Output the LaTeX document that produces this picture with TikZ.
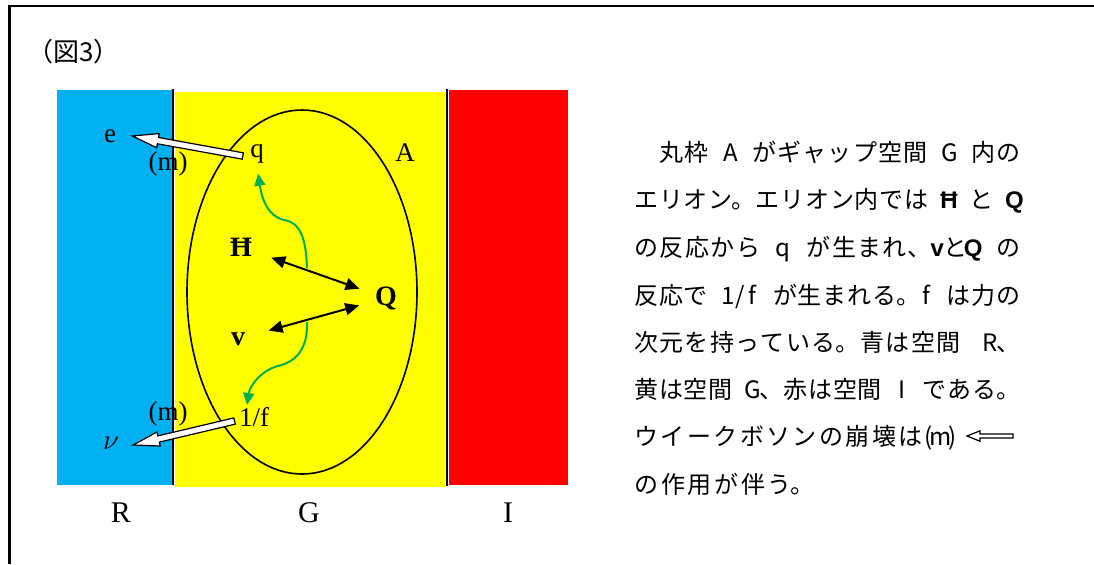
\documentclass[tikz,border=0pt]{standalone}
\usepackage{fontspec}
\setmainfont{Liberation Serif}
\newfontfamily\jpfont{Noto Sans CJK JP}
\newfontfamily\hwfont{Liberation Sans}
\usetikzlibrary{arrows.meta,calc,positioning}
\XeTeXlinebreaklocale "ja"
\XeTeXlinebreakskip=0pt plus 1pt

\definecolor{spaceR}{RGB}{0,176,240}
\definecolor{spaceG}{RGB}{255,255,0}
\definecolor{spaceI}{RGB}{255,0,0}
\definecolor{flowgreen}{RGB}{0,176,80}

% half-width letters and spaces in the explanation
\newcommand{\hc}[1]{\makebox[0.5em]{#1}}
\newcommand{\hb}[1]{\makebox[0.5em]{\hwfont\bfseries #1}}
\newcommand{\hs}{\hspace{0.5em plus 0.3em}}
\newcommand{\fullline}[1]{\noindent\parfillskip=0pt\relax #1\par}

% white block arrow: tail, tip, shaft half width, head half width, head length
\newcommand{\hollowarrow}[5]{%
  \draw[hollow] let \p1=(#1), \p2=(#2),
      \n1={atan2(\y2-\y1,\x2-\x1)}, \n2={veclen(\x2-\x1,\y2-\y1)} in
    ($(\p1)+(\n1+90:#3)$) -- ++(\n1:{\n2-#5}) -- ++(\n1+90:{#4-#3}) -- (\p2)
    -- ($(\p2)+(\n1+180:#5)+(\n1-90:#4)$) -- ++(\n1+90:{#4-#3})
    -- ++(\n1+180:{\n2-#5}) -- cycle;}

\begin{document}
\begin{tikzpicture}[
        x=0.5pt,
        y=-0.5pt,
        lab/.style={font=\fontsize{13.5}{15}\selectfont, inner sep=1pt},
        big/.style={font=\fontsize{14}{16}\selectfont\bfseries, inner sep=1pt},
        axis/.style={font=\fontsize{15}{17}\selectfont, inner sep=1pt},
        border/.style={line width=1pt},
        react/.style={line width=1pt, {Triangle[length=7pt,width=6pt]}-{Triangle[length=7pt,width=6pt]}},
        flow/.style={line width=1pt, draw=flowgreen, -{Triangle[length=6pt,width=5.5pt]}},
        hollow/.style={draw=black, fill=white, line width=0.6pt, line join=miter},
        jptext/.style={font=\jpfont\fontsize{12}{14}\selectfont, anchor=west, inner sep=0pt,
            text height=10.56pt, text depth=1.44pt, text width=193pt, align=justify},
        jpline/.style={font=\jpfont\fontsize{12}{14}\selectfont, anchor=west, inner sep=0pt,
            text height=10.56pt, text depth=1.44pt}
    ]
        \useasboundingbox (0,0) rectangle (1094,564);
        \draw[line width=1.2pt] (9.5,564) -- (9.5,6) -- (1094,6);
        \node[jpline, font=\jpfont\fontsize{13}{15}\selectfont] (title) at (27,52) {（図3）};

        % the three spaces
        \fill[spaceR] (57,90) rectangle (173,485);
        \fill[spaceG] (175,92) rectangle (445,487);
        \fill[spaceI] (449,90) rectangle (568,485);
        \draw[border] (173,89) -- (173,485);
        \draw[border] (447,89) -- (447,486);
        \draw[line width=0.8pt] (302,292) ellipse (115 and 182);

        \node[axis] (R) at (121,513) {R};
        \node[axis] (G) at (309,513) {G};
        \node[axis] (I) at (508,513) {I};

        % labels
        \node[lab] (e) at (110,136) {e};
        \node[lab] (m1) at (168,164) {(m)};
        \node[lab] (q) at (257,154) {q};
        \node[lab] (A) at (405,153) {A};
        \node[big] (hbar) at (241,247) {Ħ};
        \node[big] (Q) at (386,298) {Q};
        \node[big] (v) at (238,339) {v};
        \node[lab] (m2) at (168,414) {(m)};
        \node[lab] (onef) at (254,417) {1/f};
        \node[lab] (nu) at (111,443) {$\nu$};

        % reactions
        \draw[react, shorten <=9pt, shorten >=7pt] (hbar) -- (Q);
        \draw[react, shorten <=11pt, shorten >=7pt] (v) -- (Q);

        \coordinate (hq) at (307,268);
        \coordinate (vq) at (307,322);
        \coordinate (ftip) at ([xshift=-3.5pt]onef.north);
        \draw[flow, shorten >=4pt] (hq) .. controls (306,238) and (300,222) .. (284,220)
            .. controls (268,216) and (262,200) .. (q.south);
        \draw[flow] (vq) .. controls (308,350) and (295,362) .. (278,366)
            .. controls (262,370) and (250,385) .. (ftip);

        % decays
        \coordinate (qtail) at ([xshift=-2.5pt,yshift=-1pt]q.west);
        \coordinate (etip) at ([xshift=7pt]e.east);
        \hollowarrow{qtail}{etip}{1.6pt}{3.6pt}{13pt}
        \coordinate (ftail) at ([xshift=-1pt,yshift=-2pt]onef.west);
        \coordinate (nutip) at ([xshift=6pt,yshift=-1pt]nu.east);
        \hollowarrow{ftail}{nutip}{1.6pt}{3.6pt}{13pt}

        % explanation
        \node[jptext] (l1) at (634,152) {\fullline{　丸枠\hs\hc{A}\hs がギャップ空間\hs\hc{G}\hs 内の}};
        \node[jptext] (l2) at (634,199) {\fullline{エリオン。エリオン内では\hs\hb{Ħ}\hs{}と\hs\hb{Q}}};
        \node[jptext] (l3) at (634,247) {\fullline{の反応から\hs\hc{q}\hs が生まれ、\hb{v}と\hb{Q}\hs{}の}};
        \node[jptext] (l4) at (634,295) {\fullline{反応で\hs\hc{1}\hc{/}\hc{f}\hs が生まれる。\hc{f}\hs は力の}};
        \node[jptext] (l5) at (634,342) {\fullline{次元を持っている。青は空間　\hc{R}、}};
        \node[jptext] (l6) at (634,389) {\fullline{黄は空間\hs\hc{G}、赤は空間\hs\hc{I}\hs である。}};
        \node[jptext, text width=162pt] (l7) at (634,436) {\fullline{ウイークボソンの崩壊は\hc{(}\hc{m}\hc{)}}};
        \node[jptext, text width=90pt] (l8) at (634,484) {\fullline{の作用が伴う。}};
        \coordinate (smalltail) at (1013,436);
        \coordinate (smalltip) at (967,436);
        \hollowarrow{smalltail}{smalltip}{1pt}{2.6pt}{6.5pt}
    \end{tikzpicture}
\end{document}
